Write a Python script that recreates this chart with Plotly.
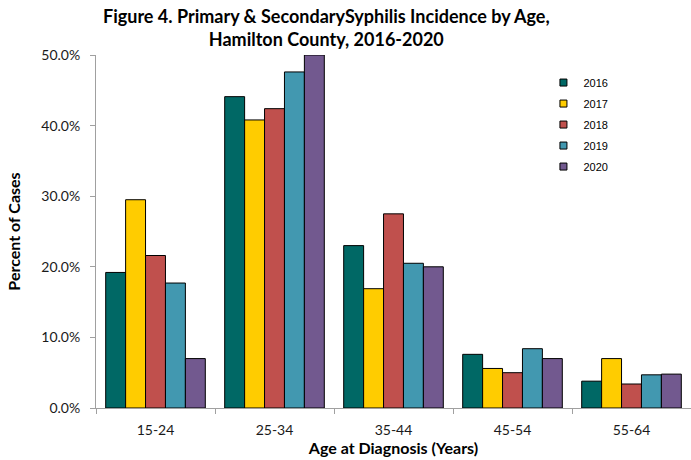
import plotly.graph_objects as go

categories = ["15-24", "25-34", "35-44", "45-54", "55-64"]
years = ["2016", "2017", "2018", "2019", "2020"]
values = {
    "2016": [19.2, 44.1, 23.0, 7.6, 3.8],
    "2017": [29.5, 40.8, 16.9, 5.6, 7.0],
    "2018": [21.6, 42.4, 27.5, 5.0, 3.4],
    "2019": [17.7, 47.6, 20.5, 8.4, 4.7],
    "2020": [7.0, 50.0, 20.0, 7.0, 4.8],
}
colors = {
    "2016": "#006865",
    "2017": "#FFCC00",
    "2018": "#C0504D",
    "2019": "#4298B0",
    "2020": "#72598F",
}
title_text = "<b>Figure 4. Primary & SecondarySyphilis Incidence by Age,<br>Hamilton County, 2016-2020</b>"

fig = go.Figure()
for y in years:
    fig.add_trace(go.Bar(
        name=y, x=categories, y=[v / 100 for v in values[y]],
        marker=dict(color=colors[y], line=dict(color="black", width=1)),
        showlegend=False,
    ))
    # legend-only entry with small square swatch
    fig.add_trace(go.Scatter(
        name=y, x=[None], y=[None], mode="markers", legendgroup=y,
        marker=dict(symbol="square", size=7, color=colors[y],
                    line=dict(color="black", width=1)),
        showlegend=True,
    ))

W, H = 691, 460
L, R, T, B = 96, 0, 55, 52
PW, PH = W - L - R, H - T - B

font_main = "Lato"
fig.update_layout(
    width=W, height=H,
    margin=dict(l=L, r=R, t=T, b=B),
    paper_bgcolor="white", plot_bgcolor="white",
    barmode="group", bargap=0.163, bargroupgap=0,
    legend=dict(
        x=0.752, y=0.963, xanchor="left", yanchor="top",
        font=dict(family="Liberation Sans", size=11, color="black"),
        tracegroupgap=2, bgcolor="rgba(0,0,0,0)",
    ),
    annotations=[dict(
        text=title_text, xref="paper", yref="paper",
        x=(326 - L) / PW, y=1 + (T - 3) / PH,
        xanchor="center", yanchor="top", showarrow=False,
        font=dict(family=font_main, size=18, color="black"),
    )],
    xaxis=dict(
        automargin=False,
        showline=True, linecolor="#A0A0A0", linewidth=1,
        ticks="outside", tickson="boundaries", ticklen=5, tickcolor="#A0A0A0",
        ticklabelstandoff=9,
        tickfont=dict(family=font_main, size=14, color="#1a1a1a"),
        title=dict(text="<b>Age at Diagnosis (Years)</b>", standoff=6,
                   font=dict(family=font_main, size=16, color="black")),
    ),
    yaxis=dict(
        automargin=False,
        range=[0, 0.5], dtick=0.1, tickformat=".1%",
        showline=True, linecolor="#A0A0A0", linewidth=1,
        ticks="outside", ticklen=5, tickcolor="#A0A0A0",
        ticklabelstandoff=7,
        showgrid=False, zeroline=False,
        tickfont=dict(family=font_main, size=14, color="#1a1a1a"),
        title=dict(text="<b>Percent of Cases</b>", standoff=16,
                   font=dict(family=font_main, size=16, color="black")),
    ),
)

fig.write_html("out.html", config={"displayModeBar": False},
               post_script="document.body.style.margin='0px';")
